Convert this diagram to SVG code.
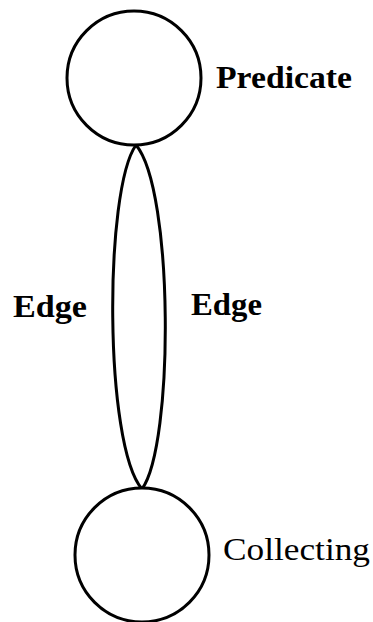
<svg xmlns="http://www.w3.org/2000/svg" width="373" height="622" viewBox="0 0 373 622">
<style>
.node{fill:#fff;stroke:#000;stroke-width:3}
.edge{fill:none;stroke:#000;stroke-width:3}
.lbl{font-family:"Liberation Serif","Times New Roman",serif;font-size:31px;font-weight:bold;fill:#000}
.lbl.reg{font-weight:normal}
</style>
<rect width="373" height="622" fill="#fff"/>
<g id="connectors">
<path class="edge" d="M136,145 C104,190 104,445 142,489"/>
<path class="edge" d="M136,145 C174,190 174,445 142,489"/>
</g>
<g id="edge-labels">
<text class="lbl" x="13" y="317" textLength="74" lengthAdjust="spacingAndGlyphs">Edge</text>
<text class="lbl" x="191" y="315" textLength="71" lengthAdjust="spacingAndGlyphs">Edge</text>
</g>
<g id="predicate">
<circle class="node" cx="134" cy="78" r="67"/>
<text class="lbl" x="216" y="88" textLength="136" lengthAdjust="spacingAndGlyphs">Predicate</text>
</g>
<g id="collecting">
<circle class="node" cx="142" cy="555" r="67"/>
<text class="lbl reg" x="223" y="560" textLength="147" lengthAdjust="spacingAndGlyphs">Collecting</text>
</g>
</svg>
